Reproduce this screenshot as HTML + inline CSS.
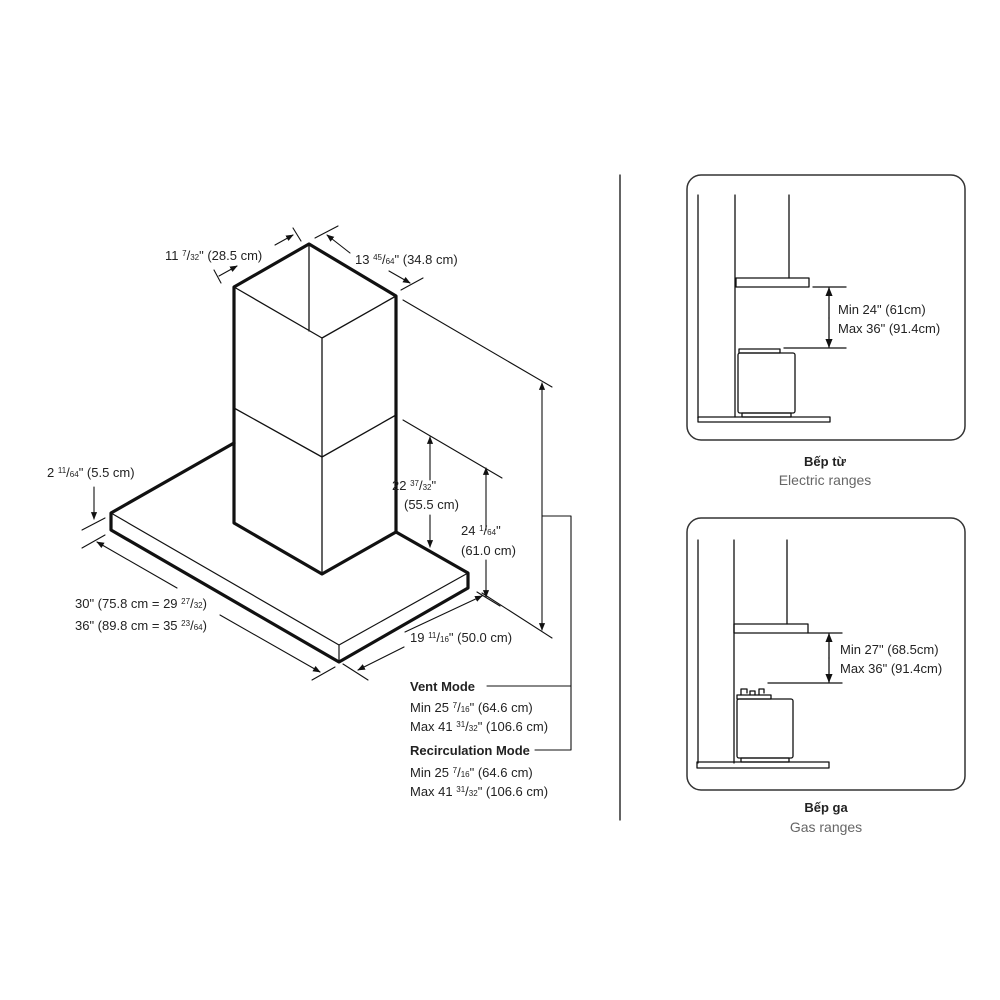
<!DOCTYPE html>
<html><head><meta charset="utf-8"><style>
html,body{margin:0;padding:0;background:#fff;}
svg{display:block;}
text{font-family:"Liberation Sans Narrow","Liberation Sans",sans-serif;font-size:13px;fill:#222;}
.b{font-weight:bold;}
.g{fill:#666;font-size:14px;}
.f{font-size:8px;}
</style></head><body>
<svg width="1000" height="1000" viewBox="0 0 1000 1000" xmlns="http://www.w3.org/2000/svg">
<defs>
<marker id="a" viewBox="0 0 10 10" refX="9" refY="5" markerWidth="7" markerHeight="7" orient="auto-start-reverse"><path d="M0,1 L10,5 L0,9 z" fill="#111"/></marker>
</defs>
<g stroke="#111" fill="none" stroke-linecap="round" stroke-linejoin="round">
<!-- chimney thick outline -->
<path d="M234,287 L309,244 L396,296 L396,532 L322,574 L234,523 Z" stroke-width="3.2"/>
<!-- thin inner lines -->
<path d="M309,244 L309,331 M234,287 L322,338 L396,296 M322,338 L322,574 M234,408 L322,457 L396,415" stroke-width="1.3"/>
<!-- base -->
<path d="M234,443 L111,513 L111,530 L339,662 L468,588 L468,573 L396,532" stroke-width="3.2"/>
<path d="M111,513 L339,645 L468,573 M339,645 L339,662" stroke-width="1.2"/>
<!-- dims thin -->
<g stroke-width="1.1">
<!-- top left dim -->
<path d="M219,276 L237,266" marker-end="url(#a)"/>
<path d="M275,245 L293,235" marker-end="url(#a)"/>
<path d="M293,228 L301,241 M214,270 L221,283"/>
<path d="M350,253 L327,235" marker-end="url(#a)"/>
<path d="M389,271 L410,283" marker-end="url(#a)"/>
<path d="M315,238 L338,226 M401,290 L423,278"/>
<!-- big height -->
<path d="M403,300 L552,387 M482,593 L552,638"/>
<path d="M542,510 L542,383" marker-end="url(#a)"/>
<path d="M542,510 L542,630" marker-end="url(#a)"/>
<path d="M542,516 L571,516 L571,750 M487,686 L571,686 M535,750 L571,750"/>
<!-- 24 -->
<path d="M403,420 L502,478"/>
<path d="M486,530 L486,468" marker-end="url(#a)"/>
<path d="M486,560 L486,597" marker-end="url(#a)"/>
<!-- 22 -->
<path d="M430,480 L430,437" marker-end="url(#a)"/>
<path d="M430,515 L430,547" marker-end="url(#a)"/>
<!-- 2 11/64 -->
<path d="M94,487 L94,519" marker-end="url(#a)"/>
<path d="M82,530 L105,518 M82,548 L105,535"/>
<!-- 30 -->
<path d="M177,588 L97,542" marker-end="url(#a)"/>
<path d="M220,615 L320,672" marker-end="url(#a)"/>
<path d="M312,680 L335,667"/>
<!-- 19 -->
<path d="M405,632 L482,596" marker-end="url(#a)"/>
<path d="M404,647 L358,670" marker-end="url(#a)"/>
<path d="M343,664 L368,680 M477,592 L500,606"/>
</g>
<!-- separator -->
<path d="M620,175 L620,820" stroke-width="1.3"/>
<!-- panel 1 -->
<rect x="687" y="175" width="278" height="265" rx="14" stroke-width="1.5" stroke="#333"/>
<g stroke-width="1.3">
<path d="M698,195 L698,418 M735,195 L735,417 M789,195 L789,278"/>
<rect x="736" y="278" width="73" height="9"/>
<path d="M813,287 L846,287 M784,348 L846,348"/>
<path d="M829,318 L829,288" marker-end="url(#a)"/>
<path d="M829,318 L829,347" marker-end="url(#a)"/>
<rect x="739" y="349" width="41" height="4"/>
<rect x="738" y="353" width="57" height="60" rx="2"/>
<rect x="742" y="413" width="49" height="4"/>
<rect x="698" y="417" width="132" height="5"/>
</g>
<!-- panel 2 -->
<rect x="687" y="518" width="278" height="272" rx="14" stroke-width="1.5" stroke="#333"/>
<g stroke-width="1.3">
<path d="M698,540 L698,763 M734,540 L734,763 M787,540 L787,624"/>
<rect x="734" y="624" width="74" height="9"/>
<path d="M808,633 L842,633 M768,683 L842,683"/>
<path d="M829,658 L829,634" marker-end="url(#a)"/>
<path d="M829,658 L829,682" marker-end="url(#a)"/>
<path d="M741,695 L741,689 L747,689 L747,693 M750,695 L750,691 L755,691 L755,695 M759,695 L759,689 L764,689 L764,693"/>
<rect x="737" y="695" width="34" height="4"/>
<rect x="737" y="699" width="56" height="59" rx="2"/>
<rect x="741" y="758" width="48" height="4"/>
<rect x="697" y="762" width="132" height="6"/>
</g>
</g>
<!-- texts -->
<text x="165" y="260">11 <tspan class="f" dy="-4">7</tspan><tspan dy="4">/</tspan><tspan class="f">32</tspan>" (28.5 cm)</text>
<text x="355" y="264">13 <tspan class="f" dy="-4">45</tspan><tspan dy="4">/</tspan><tspan class="f">64</tspan>" (34.8 cm)</text>
<text x="47" y="477">2 <tspan class="f" dy="-4">11</tspan><tspan dy="4">/</tspan><tspan class="f">64</tspan>" (5.5 cm)</text>
<text x="392" y="490">22 <tspan class="f" dy="-4">37</tspan><tspan dy="4">/</tspan><tspan class="f">32</tspan>"</text>
<text x="404" y="509">(55.5 cm)</text>
<text x="461" y="535">24 <tspan class="f" dy="-4">1</tspan><tspan dy="4">/</tspan><tspan class="f">64</tspan>"</text>
<text x="461" y="555">(61.0 cm)</text>
<text x="75" y="608">30" (75.8 cm = 29 <tspan class="f" dy="-4">27</tspan><tspan dy="4">/</tspan><tspan class="f">32</tspan>)</text>
<text x="75" y="630">36" (89.8 cm = 35 <tspan class="f" dy="-4">23</tspan><tspan dy="4">/</tspan><tspan class="f">64</tspan>)</text>
<text x="410" y="642">19 <tspan class="f" dy="-4">11</tspan><tspan dy="4">/</tspan><tspan class="f">16</tspan>" (50.0 cm)</text>
<text x="410" y="691" class="b">Vent Mode</text>
<text x="410" y="712">Min 25 <tspan class="f" dy="-4">7</tspan><tspan dy="4">/</tspan><tspan class="f">16</tspan>" (64.6 cm)</text>
<text x="410" y="731">Max 41 <tspan class="f" dy="-4">31</tspan><tspan dy="4">/</tspan><tspan class="f">32</tspan>" (106.6 cm)</text>
<text x="410" y="755" class="b">Recirculation Mode</text>
<text x="410" y="777">Min 25 <tspan class="f" dy="-4">7</tspan><tspan dy="4">/</tspan><tspan class="f">16</tspan>" (64.6 cm)</text>
<text x="410" y="796">Max 41 <tspan class="f" dy="-4">31</tspan><tspan dy="4">/</tspan><tspan class="f">32</tspan>" (106.6 cm)</text>
<text x="838" y="314">Min 24" (61cm)</text>
<text x="838" y="333">Max 36" (91.4cm)</text>
<text x="840" y="654">Min 27" (68.5cm)</text>
<text x="840" y="673">Max 36" (91.4cm)</text>
<text x="825" y="466" text-anchor="middle" class="b">Bếp từ</text>
<text x="825" y="485" text-anchor="middle" class="g">Electric ranges</text>
<text x="826" y="812" text-anchor="middle" class="b">Bếp ga</text>
<text x="826" y="832" text-anchor="middle" class="g">Gas ranges</text>
</svg>
</body></html>
